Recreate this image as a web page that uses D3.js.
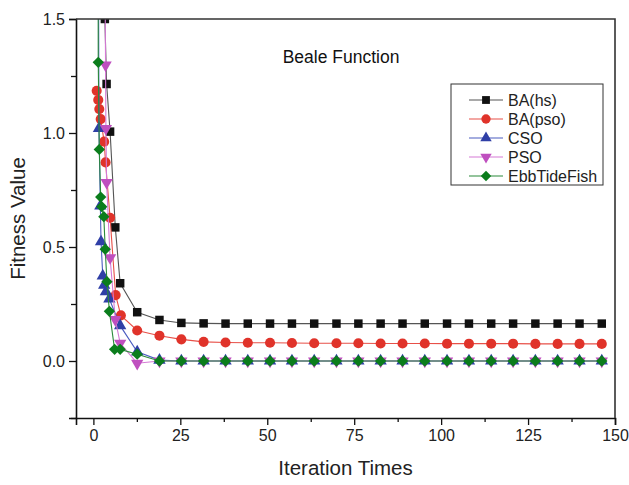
<!DOCTYPE html>
<html>
<head>
<meta charset="utf-8">
<script src="https://cdn.jsdelivr.net/npm/d3@7"></script>
<style>
  body { margin: 0; background: #fff; }
  text { font-family: "Liberation Sans", Arial, sans-serif; }
</style>
</head>
<body>
<svg width="629" height="485"></svg>
<script>
// iterations where the curves are sampled after the drop
var tailIter = [12.6, 19.0, 25.3, 31.7, 38.0, 44.4, 50.8, 57.1, 63.5, 69.9, 76.2,
                82.6, 88.9, 95.3, 101.7, 108.0, 114.4, 120.7, 127.1, 133.5, 139.8, 146.2];

var hsIter  = [2.6, 3.3, 3.8, 4.8, 6.3, 7.7];
var hsVal   = [2.6, 1.5, 1.215, 1.006, 0.586, 0.341,
               0.214, 0.180, 0.167, 0.165, 0.164, 0.164, 0.164, 0.164, 0.164, 0.164, 0.164,
               0.164, 0.164, 0.164, 0.164, 0.164, 0.164, 0.164, 0.164, 0.164, 0.164, 0.164];

var psoBaIter = [0.95, 1.4, 1.7, 2.1, 3.1, 3.5, 4.8, 6.4, 7.9];
var psoBaVal  = [1.185, 1.145, 1.105, 1.061, 0.962, 0.871, 0.628, 0.289, 0.200,
                 0.134, 0.111, 0.095, 0.084, 0.081, 0.080, 0.080, 0.079, 0.078, 0.078, 0.078,
                 0.077, 0.077, 0.077, 0.076, 0.076, 0.076, 0.076, 0.075, 0.075, 0.075, 0.075];

var csoIter = [1.3, 1.6, 2.0, 2.2, 2.7, 3.1, 3.6, 4.6, 7.7];
var csoVal  = [2.6, 1.02, 0.68, 0.523, 0.373, 0.333, 0.304, 0.272, 0.155,
               0.04, 0.004, 0, 0, 0, 0, 0, 0, 0, 0, 0, 0, 0, 0, 0, 0, 0, 0, 0, 0, 0, 0];

var psoIter = [3.0, 3.5, 3.6, 3.8, 4.8, 6.3, 7.7];
var psoVal  = [2.5, 1.298, 1.02, 0.783, 0.453, 0.182, 0.078,
               -0.01, 0, 0, 0, 0, 0, 0, 0, 0, 0, 0, 0, 0, 0, 0, 0, 0, 0, 0, 0, 0, 0];

var etfIter = [1.3, 1.4, 1.7, 2.1, 2.4, 3.0, 3.4, 3.9, 4.6, 6.1, 7.7];
var etfVal  = [2.5, 1.31, 0.928, 0.719, 0.677, 0.633, 0.490, 0.348, 0.218, 0.051, 0.051,
               0.03, 0, 0, 0, 0, 0, 0, 0, 0, 0, 0, 0, 0, 0, 0, 0, 0, 0, 0, 0, 0, 0];

var xTicks = [0, 25, 50, 75, 100, 125, 150];
var yTicks = [0, 0.5, 1.0, 1.5];

var series = [
  {name: "BA(hs)",      iter: hsIter,    val: hsVal,    shape: "square",   fill: "#111111", line: "#555555"},
  {name: "BA(pso)",     iter: psoBaIter, val: psoBaVal, shape: "circle",   fill: "#e0332a", line: "#e85048"},
  {name: "CSO",         iter: csoIter,   val: csoVal,   shape: "triangle", fill: "#2f3fa6", line: "#4a5cc0"},
  {name: "PSO",         iter: psoIter,   val: psoVal,   shape: "tridown",  fill: "#bf4fbf", line: "#d57ad5"},
  {name: "EbbTideFish", iter: etfIter,   val: etfVal,   shape: "diamond",  fill: "#0b7d1c", line: "#2a8a3a"}
];

var svg = d3.select("svg"),
    margin = {left: 76, right: 14, top: 19, bottom: 67},
    W = +svg.attr("width"), H = +svg.attr("height");

var x = d3.scaleLinear().domain([-5, 150]).range([margin.left, W - margin.right]);
var y = d3.scaleLinear().domain([-0.25, 1.5]).range([H - margin.bottom, margin.top]);

svg.append("defs").append("clipPath").attr("id", "plot")
  .append("rect")
  .attr("x", x.range()[0]).attr("y", y.range()[1])
  .attr("width", x.range()[1] - x.range()[0])
  .attr("height", y.range()[0] - y.range()[1]);

function symbolPath(shape, s) {
  if (shape == "square") return d3.symbol(d3.symbolSquare, 72 * s)();
  if (shape == "circle") return d3.symbol(d3.symbolCircle, 80 * s)();
  if (shape == "triangle" || shape == "tridown") return d3.symbol(d3.symbolTriangle, 66 * s)();
  return d3.symbol(d3.symbolSquare, 64 * s)();
}
function symbolRot(shape) {
  if (shape == "tridown") return " rotate(180)";
  if (shape == "diamond") return " rotate(45)";
  return "";
}

var g = svg.append("g").attr("clip-path", "url(#plot)");

series.forEach(function(s) {
  var pts = s.val.map(function(v, i) {
    var it = i < s.iter.length ? s.iter[i] : tailIter[i - s.iter.length];
    return [it, v];
  });
  g.append("path")
    .datum(pts)
    .attr("fill", "none")
    .attr("stroke", s.line)
    .attr("stroke-width", 1.1)
    .attr("d", d3.line().x(function(d) { return x(d[0]); }).y(function(d) { return y(d[1]); }));
  g.selectAll(null)
    .data(pts)
    .enter().append("path")
    .attr("d", symbolPath(s.shape, 1))
    .attr("transform", function(d) { return "translate(" + x(d[0]) + "," + y(d[1]) + ")" + symbolRot(s.shape); })
    .attr("fill", s.fill);
});

// axes
svg.append("g").attr("transform", "translate(0," + y.range()[0] + ")")
  .call(d3.axisBottom(x).tickValues(xTicks).tickSize(7).tickPadding(5).tickFormat(d3.format("d")));
svg.append("g").attr("transform", "translate(0," + y.range()[0] + ")")
  .call(d3.axisBottom(x).tickValues([12.5, 37.5, 62.5, 87.5, 112.5, 137.5]).tickSize(4).tickFormat(""))
  .select(".domain").remove();

svg.append("g").attr("transform", "translate(" + x.range()[0] + ",0)")
  .call(d3.axisLeft(y).tickValues(yTicks).tickSize(7).tickPadding(4).tickFormat(d3.format(".1f")));
svg.append("g").attr("transform", "translate(" + x.range()[0] + ",0)")
  .call(d3.axisLeft(y).tickValues([-0.25, 0.25, 0.75, 1.25]).tickSize(5).tickFormat(""))
  .select(".domain").remove();

svg.selectAll(".domain").attr("stroke", "#111").attr("stroke-width", 1.6);
svg.selectAll(".tick line").attr("stroke", "#111").attr("stroke-width", 1.3);
svg.selectAll(".tick text").attr("font-size", 16).attr("fill", "#222")
  .style("font-family", "'Liberation Sans', Arial, sans-serif");

// top and right frame
svg.append("path")
  .attr("d", "M" + x.range()[0] + "," + y.range()[1] + "H" + x.range()[1] + "V" + y.range()[0])
  .attr("fill", "none").attr("stroke", "#333").attr("stroke-width", 1.6);

svg.append("text")
  .attr("x", 341).attr("y", 63).attr("text-anchor", "middle")
  .attr("font-size", 17.5).attr("fill", "#111").text("Beale Function");

svg.append("text")
  .attr("x", (x.range()[0] + x.range()[1]) / 2).attr("y", 475).attr("text-anchor", "middle")
  .attr("font-size", 20.5).attr("fill", "#222").text("Iteration Times");

svg.append("text")
  .attr("transform", "translate(25," + (y.range()[0] + y.range()[1]) / 2 + ") rotate(-90)")
  .attr("text-anchor", "middle")
  .attr("font-size", 20.5).attr("fill", "#222").text("Fitness Value");

// legend
var leg = svg.append("g").attr("transform", "translate(451,84)");
leg.append("rect").attr("width", 152).attr("height", 101)
  .attr("fill", "#fff").attr("stroke", "#333").attr("stroke-width", 1);
series.forEach(function(s, i) {
  var ly = 16 + i * 19;
  leg.append("line").attr("x1", 18).attr("x2", 52).attr("y1", ly).attr("y2", ly)
    .attr("stroke", s.line).attr("stroke-width", 1.1);
  leg.append("path").attr("d", symbolPath(s.shape, 0.85))
    .attr("transform", "translate(35," + ly + ")" + symbolRot(s.shape))
    .attr("fill", s.fill);
  leg.append("text").attr("x", 57).attr("y", ly + 5.5)
    .attr("font-size", 16).attr("fill", "#222").text(s.name);
});
</script>
</body>
</html>
